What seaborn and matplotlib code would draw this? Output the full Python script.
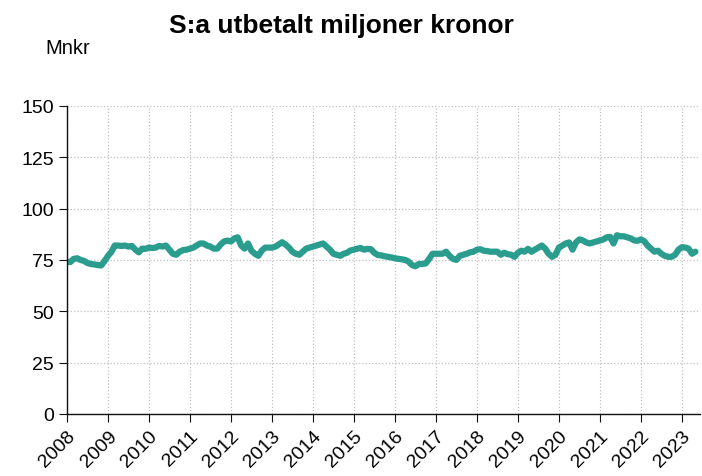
import matplotlib
matplotlib.use("Agg")
import matplotlib.pyplot as plt
import matplotlib.dates as mdates
import seaborn as sns
import pandas as pd

# Månadsvärden, miljoner kronor
y2008 = [74, 74, 75.5, 75.8, 75, 74.5, 73.5, 73, 72.8, 72.5, 72.3, 74.5]
y2009 = [77, 79, 82, 82, 81.8, 82, 81.5, 81.8, 80, 78.7, 80.5, 80.4]
y2010 = [81, 80.8, 81, 81.8, 81.5, 82, 80, 78, 77.5, 79, 79.8, 80]
y2011 = [80.5, 81, 82, 83, 83, 82, 81.5, 80.5, 80.5, 82.5, 84, 84.4]
y2012 = [84, 85.5, 86, 82, 80.5, 83, 79.5, 78, 77, 79.5, 81, 81]
y2013 = [81, 81.5, 82.5, 83.6, 82.5, 81, 79, 78, 77.5, 79, 80.5, 81]
y2014 = [81.5, 82, 82.5, 83, 81.5, 80, 78, 77.5, 77, 78, 78.5, 79.6]
y2015 = [80, 80.5, 80.8, 80, 80.4, 80.2, 78.5, 77.4, 77.2, 76.8, 76.5, 76.2]
y2016 = [75.8, 75.5, 75.3, 75, 74.2, 72.5, 71.9, 73, 73, 73.3, 75.5, 78]
y2017 = [78, 78, 78, 79, 77, 75.5, 75, 77, 77.5, 78, 78.7, 79]
y2018 = [80, 80.2, 79.5, 79.3, 79, 79, 79, 77.5, 78.5, 77.8, 77.5, 76.5]
y2019 = [78.5, 79.5, 79, 80.4, 79, 80, 81, 82, 80.5, 78, 76.5, 77.5]
y2020 = [81, 82, 83, 83.5, 80, 83.5, 85, 84.5, 83.5, 83, 83.5, 84]
y2021 = [84.5, 85, 86, 86.2, 83, 87, 86.5, 86.5, 86, 85.5, 84.5, 84.3]
y2022 = [85, 84, 82, 80.5, 79, 79.5, 78, 77, 76.5, 76.5, 77.5, 80]
y2023 = [81.2, 81, 80.5, 78, 79]

values = (y2008 + y2009 + y2010 + y2011 + y2012 + y2013 + y2014 + y2015
          + y2016 + y2017 + y2018 + y2019 + y2020 + y2021 + y2022 + y2023)
dates = pd.date_range("2008-01-01", periods=len(values), freq="MS")
df = pd.DataFrame({"Datum": dates, "Mnkr": values})

sns.set_style("ticks")
plt.rcParams["font.family"] = ["Liberation Sans", "DejaVu Sans"]
plt.rcParams["text.color"] = "black"
plt.rcParams["xtick.color"] = "black"
plt.rcParams["ytick.color"] = "black"

fig = plt.figure(figsize=(7.02, 4.77), dpi=100)
ax = fig.add_axes([0.0954, 0.130, 0.9016, 0.646])

sns.lineplot(data=df, x="Datum", y="Mnkr", ax=ax, color="#2a9d8f", linewidth=4.5)

ax.set_ylim(0, 150)
ax.set_yticks([0, 25, 50, 75, 100, 125, 150])
ax.set_xlim(pd.Timestamp("2008-01-01"), pd.Timestamp("2023-06-10"))
ax.xaxis.set_major_locator(mdates.YearLocator())
ax.xaxis.set_major_formatter(mdates.DateFormatter("%Y"))
ax.grid(True, linestyle=":", color="#c0c0c0", linewidth=0.9)
ax.set_xlabel("")
ax.set_ylabel("")
sns.despine(ax=ax)
for sp in ["left", "bottom"]:
    ax.spines[sp].set_color("#111111")
    ax.spines[sp].set_linewidth(1.0)
ax.tick_params(axis="both", labelsize=14, length=6, color="#111111")
plt.setp(ax.get_xticklabels(), rotation=45, ha="right", rotation_mode="anchor")

fig.text(0.487, 0.945, "S:a utbetalt miljoner kronor", ha="center", va="center",
         fontsize=19, fontweight="bold")
fig.text(0.064, 0.898, "Mnkr", ha="left", va="center", fontsize=14.5)

fig.savefig("out.png", dpi=100)
